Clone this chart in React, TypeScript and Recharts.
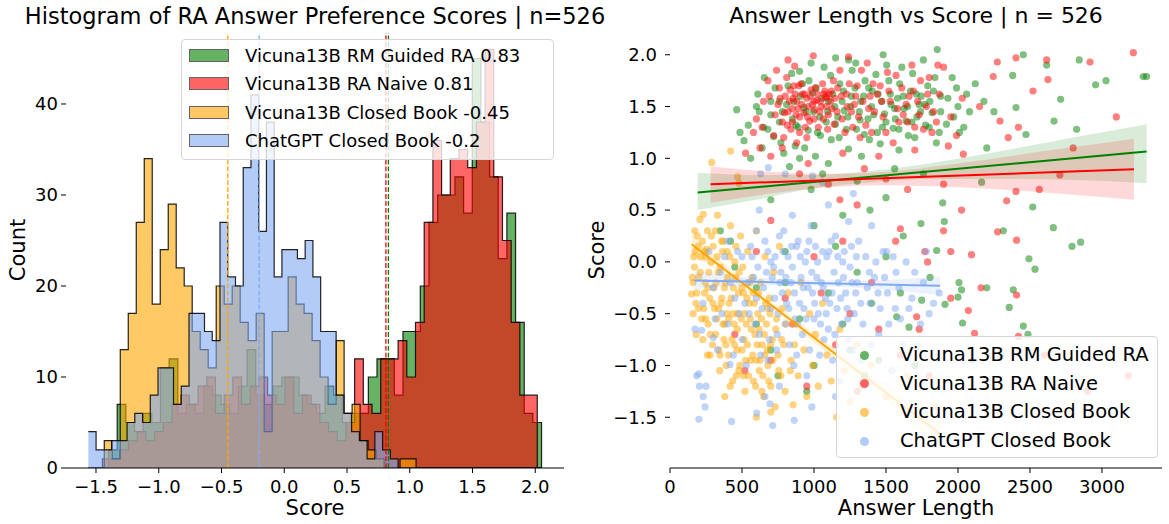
import React from "react";
import {
  ComposedChart,
  Area,
  Line,
  Scatter,
  XAxis,
  YAxis,
  ReferenceLine,
} from "recharts";

// ---- left panel: histogram bins (start, bin width, counts) ----
const guidedStart = -1.4;
const guidedWidth = 0.069;
const guidedCounts = [
  2, 7, 5, 4, 6, 5, 11, 12, 6, 7, 6, 9, 8, 7, 6, 9, 13, 8, 7, 9, 10, 10, 8, 7, 6,
  9, 8, 5, 6, 6, 10, 12, 12, 8, 15, 15, 20, 27, 30, 30, 32, 28, 45, 38, 32, 23, 28,
  16, 6, 5,
];
const naiveStart = -1.449;
const naiveWidth = 0.0693;
const naiveCounts = [
  1, 1, 2, 3, 4, 3, 4, 5, 7, 8, 7, 9, 10, 6, 8, 10, 7, 9, 10, 8, 7, 10, 6, 8, 7, 5,
  4, 3, 5, 12, 7, 6, 12, 12, 14, 10, 16, 27, 36, 30, 34, 35, 33, 38, 46, 32, 25, 16,
  8, 8,
];
const closedStart = -1.434;
const closedWidth = 0.0637;
const closedCounts = [
  3, 1, 13, 17, 27, 34, 18, 24, 29, 22, 20, 15, 13, 11, 20, 18, 20, 16, 14, 17, 4,
  15, 15, 21, 18, 17, 14, 10, 7, 14, 6, 7, 3, 2, 1, 0, 0, 1, 1, 0,
];
const chatStart = -1.561;
const chatWidth = 0.0617;
const chatCounts = [
  4, 2, 2, 3, 3, 5, 6, 5, 8, 11, 11, 7, 9, 17, 17, 15, 14, 27, 21, 20, 33, 41, 26,
  38, 21, 24, 24, 23, 25, 21, 15, 15, 8, 6, 4, 3, 1, 4, 2, 1,
];
const means = [0.83, 0.81, -0.45, -0.2];
const histNames = [
  "Vicuna13B RM Guided RA",
  "Vicuna13B RA Naive",
  "Vicuna13B Closed Book",
  "ChatGPT Closed Book",
];
const histXTicks = [-1.5, -1.0, -0.5, 0.0, 0.5, 1.0, 1.5, 2.0];
const histYTicks = [0, 10, 20, 30, 40];

// ---- right panel: [answer length, score] ----
const guidedPts: [number, number][] = [
  [486, 1.25], [463, 1.47], [544, 1.32], [514, 1.17], [610, 1.62], [655, 1.78], [700, 1.42],
  [720, 1.21], [760, 1.55], [790, 1.05], [820, 1.7], [850, 1.38], [870, 1.12], [900, 1.84],
  [930, 1.49], [960, 1.27], [990, 1.63], [1010, 1.02], [1040, 1.4], [1070, 1.88], [1100, 1.55],
  [1120, 1.18], [1150, 1.33], [1180, 1.72], [1210, 1.46], [1240, 1.09], [1260, 1.6], [1290, 1.92],
  [1320, 1.37], [1350, 1.23], [1380, 1.68], [1400, 1.5], [1430, 1.81], [1460, 1.14], [1490, 1.43],
  [1520, 1.75], [1550, 1.29], [1580, 1.58], [1610, 1.88], [1640, 1.36], [1670, 1.65], [1700, 1.2],
  [1730, 1.52], [1760, 1.95], [1790, 1.7], [1820, 1.44], [1856, 2.05], [1880, 1.6], [1920, 1.33],
  [1960, 1.78], [2000, 1.5], [2060, 1.62], [1150, 1.97], [980, 1.92], [760, 1.35], [640, 1.1],
  [1330, 1.02], [1590, 1.08], [1850, 1.15], [830, 0.92], [1060, 0.85], [1300, 0.78], [1389, 0.5],
  [1743, 0.37], [1894, 0.57], [1905, 0.39], [2164, 0.77], [1500, 0.62], [1200, 0.45], [980, 0.7],
  [700, 0.6], [2519, 0.53], [2662, 0.33], [1852, 0.11], [2315, 0.3], [1620, 0.25], [3287, 1.79],
  [3310, 1.79], [2842, 1.95], [2956, 1.71], [3028, 1.75], [2824, 1.28], [2667, 1.36], [2713, 1.57],
  [2616, 1.9], [2454, 2.0], [2472, 1.23], [2403, 1.49], [2380, 1.8], [2200, 1.1], [2250, 1.45],
  [2792, 0.15], [2852, 0.19], [2493, 0.03], [2535, -0.07], [2384, -0.27], [2356, -0.44],
  [2454, -0.62], [2486, -0.7], [2007, -0.2], [2025, -0.27], [1910, -0.41], [2000, -0.34],
  [2200, -0.25], [2032, -0.59], [1806, -0.15], [1748, -0.37], [1574, -0.53], [1660, -0.63],
  [1300, -0.1], [1100, -0.3], [900, -0.55], [700, -0.85], [1000, -1.0], [1250, -0.85],
  [1450, -0.95], [600, -0.25], [450, -0.05], [350, 0.3], [800, 0.1], [1150, 0.15], [1400, -0.4],
  [2100, -0.95], [2300, -0.9], [1700, -1.0], [950, -1.25],
  [620, 1.45], [680, 1.28], [730, 1.68], [770, 1.15], [810, 1.52], [845, 1.82], [875, 1.32],
  [905, 1.6], [935, 1.1], [965, 1.75], [995, 1.45], [1025, 1.25], [1055, 1.58], [1085, 1.35],
  [1115, 1.8], [1145, 1.5], [1175, 1.2], [1205, 1.65], [1235, 1.4], [1265, 1.85], [1295, 1.28],
  [1325, 1.55], [1355, 1.75], [1385, 1.18], [1415, 1.42], [1445, 1.62], [1475, 1.3], [1505, 1.9],
  [1535, 1.52], [1565, 1.38], [1595, 1.72], [1625, 1.48], [1655, 1.22], [1685, 1.82], [1715, 1.4],
  [1745, 1.6], [1775, 1.32], [1805, 1.55], [1840, 1.78], [1870, 1.25], [1990, 1.68], [2040, 1.3],
  [2120, 1.72], [2180, 1.55], [1240, 1.95], [1480, 2.0], [560, 1.0], [900, 1.0], [1100, 0.95],
  [1560, 0.9], [1760, 0.85], [420, 0.2], [600, -0.6], [800, -0.2], [1000, 0.35], [1200, -0.6],
  [1500, 0.05], [750, -1.1], [1350, -1.1], [1600, -0.3],
  [1095, 1.45], [1130, 1.62], [1165, 1.4], [1195, 1.55], [1225, 1.28], [1255, 1.5], [1285, 1.68],
  [1315, 1.45], [1345, 1.6], [1375, 1.38], [1405, 1.65], [1440, 1.25], [1470, 1.55], [1500, 1.35],
  [1530, 1.62], [1560, 1.48], [1590, 1.28], [1620, 1.6], [1650, 1.5], [1680, 1.35], [1710, 1.62],
  [1740, 1.45], [1770, 1.52], [1800, 1.3], [1830, 1.65], [1880, 1.45], [1930, 1.58], [1970, 1.4],
  [2010, 1.25], [2080, 1.45], [860, 1.55], [890, 1.3], [920, 1.72], [945, 1.45], [1015, 1.68],
  [1045, 1.22], [780, 1.45], [700, 1.55], [650, 1.3], [600, 1.5],
];
const naivePts: [number, number][] = [
  [750, 1.52], [780, 1.35], [800, 1.6], [820, 1.45], [840, 1.28], [860, 1.7], [880, 1.55],
  [900, 1.4], [920, 1.62], [940, 1.3], [960, 1.5], [980, 1.66], [1000, 1.38], [1020, 1.56],
  [1040, 1.45], [1060, 1.72], [1080, 1.59], [1100, 1.42], [1120, 1.65], [1140, 1.33], [1088, 1.59],
  [1070, 1.62], [1000, 1.55], [900, 1.25], [850, 1.48], [950, 1.2], [995, 1.99], [866, 1.89],
  [525, 1.05], [625, 1.1], [600, 1.38], [680, 1.75], [720, 1.22], [1180, 1.85], [1230, 1.5],
  [1270, 1.3], [1300, 1.7], [1340, 1.55], [1370, 1.92], [1400, 1.25], [1440, 1.62], [1480, 1.4],
  [1510, 1.83], [1550, 1.15], [1580, 1.48], [1610, 1.68], [1650, 1.35], [1680, 1.9], [1720, 1.55],
  [1760, 1.28], [1800, 1.78], [1830, 1.45], [1870, 1.62], [1900, 1.88], [1950, 1.4], [1990, 1.22],
  [2030, 1.58], [1200, 1.05], [1450, 1.02], [1700, 1.08], [3218, 2.02], [2917, 1.93], [2616, 1.95],
  [2403, 1.97], [2273, 1.93], [2625, 1.76], [2708, 0.84], [2565, 0.7], [2403, 0.68], [2338, 0.59],
  [2349, 1.2], [2292, 1.36], [2521, 1.65], [2245, 1.79], [1933, 1.12], [2037, 1.04], [2150, 1.5],
  [2420, 1.3], [2800, 1.1], [3100, 1.4], [1900, 0.3], [2407, 0.21], [2407, -0.32], [2275, 0.29],
  [2094, 0.07], [2072, -0.47], [2115, -0.69], [2160, -0.25], [1950, -0.35], [2025, 0.5],
  [1950, 0.1], [1789, 0.0], [1770, 0.1], [1713, -0.53], [1731, -0.65], [1567, 0.2], [1600, 0.32],
  [2420, -0.72], [3183, -1.1], [1300, 0.55], [1100, 0.75], [900, 0.85], [1500, 0.8], [700, 0.4],
  [450, -0.7], [520, -1.05], [800, -0.35], [1000, 0.05], [1250, -0.5], [1400, -0.2], [1150, -0.8],
  [1800, -1.1], [2600, -0.9], [2900, -1.25],
  [730, 1.42], [760, 1.68], [790, 1.2], [810, 1.78], [830, 1.55], [850, 1.35], [870, 1.62],
  [890, 1.48], [910, 1.72], [930, 1.44], [950, 1.58], [970, 1.36], [990, 1.52], [1010, 1.68],
  [1030, 1.3], [1050, 1.5], [1075, 1.65], [1095, 1.28], [1115, 1.55], [1135, 1.75], [1160, 1.45],
  [1190, 1.6], [1215, 1.25], [1245, 1.72], [1280, 1.52], [1310, 1.4], [1330, 1.85], [1360, 1.32],
  [1390, 1.6], [1420, 1.45], [1460, 1.7], [1500, 1.25], [1530, 1.55], [1570, 1.8], [1620, 1.42],
  [1660, 1.6], [1700, 1.3], [1740, 1.75], [1780, 1.5], [1820, 1.25], [1860, 1.9], [700, 1.02],
  [650, 1.55], [580, 1.25], [820, 1.95], [1240, 1.98], [960, 0.95], [1180, 0.6], [1350, 0.9],
  [1650, 0.7], [1900, 0.75], [600, 0.1], [850, -0.6], [1050, -0.3], [1200, 0.2], [1450, -0.65],
  [1600, -0.9], [700, -0.95], [950, -1.2], [1300, -1.25],
  [765, 1.58], [795, 1.44], [815, 1.32], [835, 1.66], [855, 1.58], [875, 1.42], [895, 1.7],
  [915, 1.52], [935, 1.62], [955, 1.4], [975, 1.6], [1005, 1.47], [1025, 1.62], [1045, 1.55],
  [1065, 1.38], [1085, 1.5], [1105, 1.62], [1125, 1.48], [1145, 1.58], [1165, 1.68], [1195, 1.38],
  [1225, 1.62], [1260, 1.45], [1290, 1.6], [1320, 1.2], [1380, 1.48], [1410, 1.72], [1470, 1.55],
  [1520, 1.65], [1590, 1.35], [1640, 1.52], [1690, 1.65], [1730, 1.42], [1790, 1.62], [1850, 1.35],
  [640, 1.3], [690, 1.6], [740, 1.85], [780, 1.1], [880, 1.15],
];
const closedPts: [number, number][] = [
  [150, -0.31], [160, -0.2], [170, -0.05], [175, 0.1], [180, -0.4], [190, 0.25], [200, -0.15],
  [208, 0.41], [231, 0.46], [290, 0.96], [421, 1.07], [470, 0.82], [480, 0.76], [220, -0.55],
  [240, -0.3], [250, 0.05], [260, 0.3], [270, -0.1], [280, -0.7], [300, 0.15], [310, -0.45],
  [320, -0.2], [330, 0.45], [340, -0.85], [350, -0.05], [360, -0.35], [370, 0.2], [380, -0.6],
  [390, -1.0], [400, -0.15], [410, -0.4], [420, 0.35], [430, -0.75], [440, -0.25], [450, 0.0],
  [460, -1.1], [470, -0.5], [480, -0.1], [490, 0.25], [500, -0.85], [510, -0.3], [520, -1.25],
  [530, -0.6], [540, 0.1], [550, -0.4], [560, -0.95], [570, -0.15], [580, -1.15], [590, -0.7],
  [600, 0.3], [610, -0.5], [620, -1.05], [630, -0.2], [640, -0.8], [650, -1.3], [660, 0.05],
  [670, -0.6], [680, -1.0], [690, -0.35], [700, -1.2], [710, -0.75], [720, -0.1], [730, -1.4],
  [740, -0.55], [750, -0.9], [760, 0.15], [770, -1.1], [780, -0.45], [790, -0.8], [800, -1.25],
  [820, -0.3], [840, -0.95], [855, -1.38], [870, -0.6], [890, -1.1], [910, -0.2], [930, -0.85],
  [950, -1.3], [970, -0.5], [990, -1.0], [1010, -0.7], [1030, -1.2], [1060, -0.4], [1090, -0.9],
  [1120, -1.15], [1157, -1.5], [1180, -0.65], [1210, -1.05], [1250, -1.35], [1300, -0.8],
  [1330, -1.2], [1400, -1.0], [1500, -1.3], [1650, -1.1], [1850, -1.4], [700, -1.45], [380, -1.3],
  [260, -0.9], [600, -1.5],
  [155, -0.15], [165, 0.05], [185, -0.3], [195, 0.15], [210, -0.1], [225, 0.2], [235, -0.45],
  [245, -0.2], [255, 0.12], [265, -0.6], [275, -0.35], [285, 0.0], [295, -0.8], [305, -0.25],
  [315, 0.3], [325, -0.55], [335, -0.1], [345, -1.05], [355, -0.4], [365, 0.1], [375, -0.75],
  [385, -0.2], [395, -0.5], [405, -0.9], [415, 0.05], [425, -0.35], [435, -1.15], [445, -0.6],
  [455, -0.15], [465, -0.85], [475, -0.3], [485, -1.0], [495, -0.55], [505, -0.05], [515, -0.75],
  [525, -0.95], [535, -0.35], [545, -1.1], [555, -0.2], [565, -0.65], [575, -0.9], [585, -0.4],
  [595, -1.2], [605, -0.8], [615, -0.3], [625, -0.95], [635, -0.55], [645, -1.1], [655, -0.7],
  [665, -0.4], [675, -0.85], [685, -1.15], [695, -0.5], [715, -0.95], [735, -0.65], [755, -1.05],
  [775, -0.75], [805, -0.6], [835, -1.05], [865, -0.8],
  [160, -0.5], [172, 0.3], [182, -0.7], [198, -0.45], [212, 0.05], [228, -0.75], [238, 0.1],
  [248, -0.55], [262, -0.25], [278, -0.9], [288, 0.25], [298, -0.4], [318, -0.7], [328, 0.05],
  [338, -0.45], [348, -0.9], [358, 0.2], [368, -0.6], [378, -0.25], [388, -0.8], [398, 0.1],
  [408, -0.55], [418, -1.2], [438, -0.5], [448, -0.8], [458, 0.15], [468, -0.65], [478, -1.05],
  [498, -0.25], [508, -1.1], [518, -0.5], [538, -0.8], [558, -0.55], [578, -0.3], [598, -0.95],
  [618, -0.65], [638, -1.25], [658, -0.9], [678, -0.45], [698, -0.8],
];
const chatPts: [number, number][] = [
  [174, -0.65], [220, -0.66], [301, -0.73], [185, -1.1], [200, -1.08], [204, -1.2], [250, -1.2],
  [230, -1.3], [201, -1.52], [243, -1.4], [428, -1.54], [417, -0.99], [440, -0.9], [602, -1.46],
  [713, -1.58], [863, -1.53], [985, -1.4], [660, -1.3], [694, -1.37], [229, -0.4], [313, -0.55],
  [683, 0.91], [630, 0.85], [800, 0.85], [990, 0.83], [1060, 0.77], [1273, 0.66], [1240, 0.39],
  [350, -0.1], [400, 0.2], [450, -0.35], [500, 0.05], [550, -0.5], [580, -0.15], [600, 0.3],
  [620, -0.7], [650, -0.25], [680, 0.1], [700, -0.45], [720, -0.05], [740, -0.85], [760, 0.25],
  [780, -0.3], [800, -0.6], [820, 0.05], [840, -0.2], [860, -1.0], [880, 0.15], [900, -0.4],
  [920, -0.7], [940, 0.0], [960, -0.25], [980, 0.35], [1000, -0.55], [1020, -0.15], [1040, -0.9],
  [1060, 0.1], [1080, -0.35], [1100, -0.65], [1120, 0.2], [1140, -0.1], [1160, -0.45], [1180, -1.15],
  [1200, 0.0], [1220, -0.3], [1240, -0.75], [1260, 0.15], [1280, -0.5], [1300, -0.2], [1330, -0.95],
  [1360, 0.05], [1390, -0.4], [1420, -0.15], [1450, -0.7], [1480, 0.1], [1510, -0.3], [1540, -1.05],
  [1570, -0.1], [1600, -0.55], [1640, 0.0], [1680, -0.35], [1720, -0.8], [1760, -0.2], [1800, -0.5],
  [1870, -0.3], [530, -1.0], [760, -1.2], [950, -1.1], [1150, -1.3], [680, -0.95], [500, -0.75],
  [880, -0.9], [1350, -1.2], [400, -0.6], [620, 0.5], [850, 0.45], [1100, 0.55], [1400, 0.35],
  [420, -0.2], [470, 0.1], [520, -0.4], [560, 0.15], [590, -0.6], [610, -0.05], [640, -0.45],
  [660, 0.2], [690, -0.75], [710, -0.15], [730, 0.05], [750, -0.5], [770, -0.1], [790, 0.3],
  [810, -0.4], [830, -0.8], [850, -0.05], [870, -0.55], [890, 0.2], [910, -0.15], [930, -0.45],
  [950, 0.1], [970, -0.85], [990, -0.3], [1010, 0.15], [1030, -0.5], [1050, -0.2], [1070, -0.75],
  [1090, 0.05], [1110, -0.4], [1130, -0.95], [1150, 0.25], [1170, -0.2], [1190, -0.6], [1210, 0.1],
  [1230, -0.45], [1250, -0.05], [1270, -0.85], [1290, -0.3], [1310, 0.2], [1340, -0.6], [1370, -0.25],
  [1400, -0.8], [1430, 0.0], [1460, -0.45], [1490, -0.15], [1520, -0.6], [1550, 0.05], [1590, -0.25],
  [1620, -0.8], [1660, -0.45], [1700, -0.1], [1740, -0.6], [1780, 0.1], [1830, -0.4], [360, -0.5],
  [380, 0.05], [300, -0.25], [270, 0.1], [330, -0.85],
  [480, -0.5], [540, -0.2], [570, 0.05], [600, -0.35], [630, -0.9], [670, -0.1], [700, 0.0],
  [725, -0.35], [745, -0.7], [765, -0.2], [785, 0.1], [805, -0.15], [825, -0.45], [845, 0.15],
  [865, -0.3], [885, -0.6], [905, 0.05], [925, -0.25], [945, -0.55], [965, 0.2], [985, -0.1],
  [1005, -0.4], [1025, 0.0], [1045, -0.6], [1065, -0.25], [1085, -0.5], [1105, 0.1], [1125, -0.3],
  [1145, -0.7], [1165, 0.05], [1185, -0.35], [1205, -0.15], [1235, -0.55], [1265, -0.2], [1295, 0.05],
  [1325, -0.4], [1385, -0.1], [1445, -0.3], [1505, 0.1], [1565, -0.45],
];

// regression fits and confidence bands: [length, low, high]
const guidedFit: [number, number][] = [[192, 0.67], [3310, 1.065]];
const naiveFit: [number, number][] = [[282, 0.75], [3222, 0.894]];
const closedFit: [number, number][] = [[150, 0.17], [1875, -1.66]];
const chatFit: [number, number][] = [[169, -0.18], [1875, -0.23]];
const guidedBand: [number, number, number][] = [
  [192, 0.5, 0.86], [600, 0.6, 0.84], [1000, 0.71, 0.84], [1400, 0.77, 0.88],
  [1800, 0.8, 0.95], [2300, 0.8, 1.07], [2800, 0.79, 1.2], [3310, 0.76, 1.33],
];
const naiveBand: [number, number, number][] = [
  [282, 0.57, 0.92], [700, 0.66, 0.87], [1100, 0.72, 0.85], [1500, 0.74, 0.87],
  [2000, 0.72, 0.95], [2600, 0.67, 1.07], [3222, 0.6, 1.19],
];
const closedBand: [number, number, number][] = [
  [150, 0.07, 0.27], [500, -0.24, -0.16], [800, -0.56, -0.48], [1100, -0.89, -0.79],
  [1500, -1.34, -1.18], [1875, -1.78, -1.54],
];
const chatBand: [number, number, number][] = [
  [169, -0.27, -0.09], [500, -0.23, -0.14], [900, -0.23, -0.17], [1300, -0.25, -0.18],
  [1875, -0.32, -0.14],
];
const scatterXTicks = [0, 500, 1000, 1500, 2000, 2500, 3000];
const scatterYTicks = [-1.5, -1.0, -0.5, 0.0, 0.5, 1.0, 1.5, 2.0];

const colors = ["#008000", "#ff0000", "#ffa500", "#7faaf2"];
const font = "'DejaVu Sans', sans-serif";

// build a step table on the union of all bin edges
const hists = [
  { key: "guided", start: guidedStart, width: guidedWidth, counts: guidedCounts },
  { key: "naive", start: naiveStart, width: naiveWidth, counts: naiveCounts },
  { key: "closed", start: closedStart, width: closedWidth, counts: closedCounts },
  { key: "chat", start: chatStart, width: chatWidth, counts: chatCounts },
];
const edgeSet = new Set<number>();
hists.forEach((h) => {
  for (let i = 0; i <= h.counts.length; i++) edgeSet.add(+(h.start + i * h.width).toFixed(5));
});
const histRows = [...edgeSet]
  .sort((a, b) => a - b)
  .map((x) => {
    const row: any = { x };
    hists.forEach((h) => {
      const i = Math.floor((x - h.start) / h.width + 1e-6);
      row[h.key] = i >= 0 && i < h.counts.length ? h.counts[i] : 0;
    });
    return row;
  });

const toPts = (a: [number, number][]) => a.map(([x, y]) => ({ x, y }));
const toBand = (a: [number, number, number][]) => a.map(([x, lo, hi]) => ({ x, band: [lo, hi] }));
const fmt = (v: number) => (v < 0 ? "\u2212" : "") + Math.abs(v).toFixed(1);

const dot = (color: string) => (p: any) =>
  <circle cx={p.cx} cy={p.cy} r={3.6} fill={color} fillOpacity={0.5} />;

const tickStyle = { fill: "#000", fontSize: 18, fontFamily: font };

function Text({ x, y, children, size = 19, rotate = false }: any) {
  return (
    <div
      style={{
        position: "absolute",
        left: x,
        top: y,
        transform: `translate(-50%, -50%)${rotate ? " rotate(-90deg)" : ""}`,
        fontSize: size,
        fontFamily: font,
        whiteSpace: "nowrap",
        color: "#000",
        lineHeight: 1,
      }}
    >
      {children}
    </div>
  );
}

export default function App() {
  const scatterSets = [guidedPts, naivePts, closedPts, chatPts];
  const bands = [guidedBand, naiveBand, closedBand, chatBand];
  const fits = [guidedFit, naiveFit, closedFit, chatFit];
  return (
    <div style={{ position: "absolute", left: 0, top: 0, width: 1169, height: 524, background: "#fff", fontFamily: font }}>
      <div style={{ position: "absolute", left: 0, top: 0 }}>
        <ComposedChart width={580} height={524} data={histRows} margin={{ top: 33, right: 16, bottom: 0, left: 0 }}>
          <XAxis
            dataKey="x"
            type="number"
            domain={[-1.739, 2.229]}
            allowDataOverflow
            ticks={histXTicks}
            tickFormatter={fmt}
            stroke="#000"
            tick={tickStyle}
            tickSize={5}
            tickMargin={7}
            height={56}
          />
          <YAxis
            type="number"
            domain={[0, 47.8]}
            allowDataOverflow
            ticks={histYTicks}
            axisLine={false}
            stroke="#000"
            tick={tickStyle}
            tickSize={5}
            tickMargin={3}
            width={66}
          />
          {hists.map((h, i) => (
            <Area
              key={h.key}
              type="stepAfter"
              dataKey={h.key}
              stroke="#000"
              strokeOpacity={0.85}
              strokeWidth={1.2}
              fill={colors[i]}
              fillOpacity={0.6}
              dot={false}
              activeDot={false}
              isAnimationActive={false}
            />
          ))}
          {means.map((m, i) => (
            <ReferenceLine key={i} x={m} stroke={colors[i]} strokeWidth={1.3} strokeDasharray="4.8 2.1" />
          ))}
        </ComposedChart>
      </div>

      <div style={{ position: "absolute", left: 590, top: 0 }}>
        <ComposedChart width={579} height={524} margin={{ top: 33, right: 7, bottom: 0, left: 0 }}>
          <XAxis
            dataKey="x"
            type="number"
            domain={[0, 3417]}
            allowDataOverflow
            ticks={scatterXTicks}
            stroke="#000"
            tick={tickStyle}
            tickSize={5}
            tickMargin={7}
            height={56}
          />
          <YAxis
            dataKey="y"
            type="number"
            domain={[-1.99, 2.21]}
            allowDataOverflow
            ticks={scatterYTicks}
            tickFormatter={fmt}
            axisLine={false}
            stroke="#000"
            tick={tickStyle}
            tickSize={5}
            tickMargin={8}
            width={80}
          />
          {scatterSets.map((pts, i) => (
            <Scatter
              key={"s" + i}
              data={toPts(pts)}
              dataKey="y"
              shape={dot(colors[i])}
              isAnimationActive={false}
              zIndex={600}
            />
          ))}
          {bands.map((b, i) => (
            <Area
              key={"b" + i}
              data={toBand(b)}
              dataKey="band"
              type="monotone"
              stroke="none"
              fill={colors[i]}
              fillOpacity={0.15}
              dot={false}
              activeDot={false}
              isAnimationActive={false}
              zIndex={610}
            />
          ))}
          {fits.map((f, i) => (
            <Line
              key={"l" + i}
              data={toPts(f)}
              dataKey="y"
              stroke={colors[i]}
              strokeWidth={2}
              dot={false}
              activeDot={false}
              isAnimationActive={false}
              zIndex={620}
            />
          ))}
        </ComposedChart>
      </div>

      {/* titles and axis labels */}
      <Text x={315} y={16} size={22.5}>Histogram of RA Answer Preference Scores | n=526</Text>
      <Text x={916} y={16} size={22}>Answer Length vs Score | n = 526</Text>
      <Text x={315} y={508} size={21}>Score</Text>
      <Text x={916} y={508} size={21}>Answer Length</Text>
      <Text x={18} y={250} size={21} rotate>Count</Text>
      <Text x={597} y={250} size={21} rotate>Score</Text>

      {/* left legend */}
      <div
        style={{
          position: "absolute", left: 181, top: 39, width: 373, height: 121,
          background: "rgba(255,255,255,0.8)", border: "1px solid #d6d6d6",
          borderRadius: 4, boxSizing: "border-box",
        }}
      >
        {histNames.map((n, i) => {
          const cy = 16 + i * 28.4;
          return (
            <React.Fragment key={n}>
              <div
                style={{
                  position: "absolute", left: 7, top: cy - 7, width: 40, height: 13,
                  background: colors[i], opacity: 0.6, border: "1px solid #000", boxSizing: "border-box",
                }}
              />
              <div style={{ position: "absolute", left: 63, top: cy - 11, fontSize: 18, lineHeight: "22px", whiteSpace: "nowrap" }}>
                {n} {means[i]}
              </div>
            </React.Fragment>
          );
        })}
      </div>

      {/* right legend */}
      <div
        style={{
          position: "absolute", left: 836, top: 336, width: 322, height: 122,
          background: "rgba(255,255,255,0.8)", border: "1px solid #d6d6d6",
          borderRadius: 4, boxSizing: "border-box",
        }}
      >
        {histNames.map((n, i) => {
          const cy = 18 + i * 28.7;
          return (
            <React.Fragment key={n}>
              <div
                style={{
                  position: "absolute", left: 23, top: cy - 4.5, width: 9, height: 9,
                  borderRadius: "50%", background: colors[i], opacity: 0.6,
                }}
              />
              <div style={{ position: "absolute", left: 63, top: cy - 11, fontSize: 19.5, lineHeight: "22px", whiteSpace: "nowrap" }}>
                {n}
              </div>
            </React.Fragment>
          );
        })}
      </div>
    </div>
  );
}
